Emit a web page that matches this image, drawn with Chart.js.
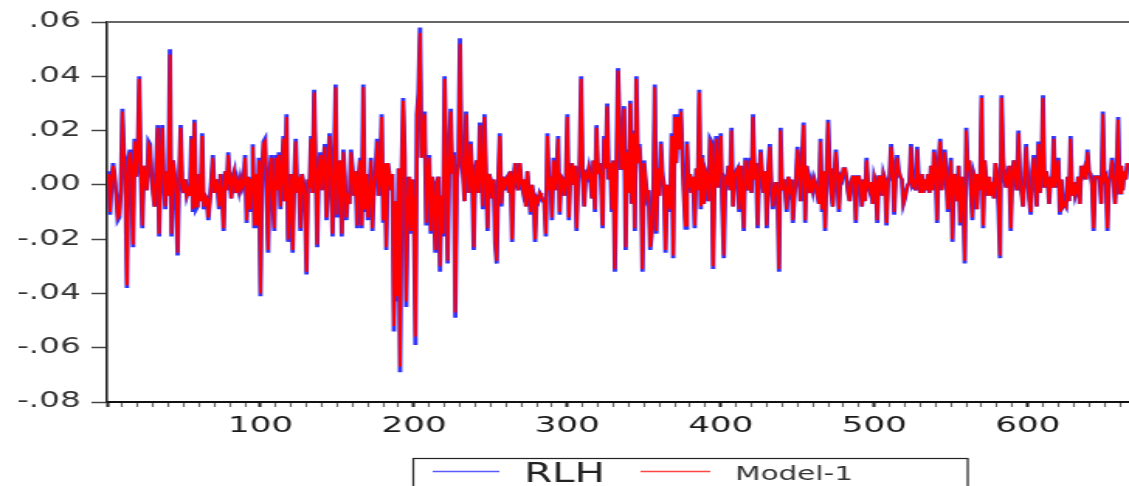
<!DOCTYPE html>
<html><head><meta charset="utf-8">
<script src="https://cdn.jsdelivr.net/npm/chart.js@4"></script>
<style>
html,body{margin:0;padding:0;background:#fff;overflow:hidden}
#c{display:block;width:1129px !important;height:486px !important}
</style></head><body>
<canvas id="c" width="728" height="486"></canvas>
<script>
// Series values (observations 1..665)
const rlh = [
.005,-.011,.002,.008,.003,-.004,-.013,-.012,-.002,.028,
.012,.002,-.038,.010,.013,.006,-.023,.017,.003,.010,
.040,.005,-.016,.007,.003,-.002,.016,.015,.004,-.003,
-.008,.006,.022,-.019,.008,.022,.002,-.009,.005,-.004,
.050,-.019,.009,.004,-.004,-.026,.002,.022,.001,-.003,
.002,-.004,-.002,-.004,.018,-.010,.024,-.009,-.008,.004,
-.006,.019,-.009,-.004,-.005,-.013,-.006,.002,.011,-.003,
.002,-.001,-.009,.004,-.004,-.017,.005,-.002,.012,.002,
-.005,.003,.005,-.003,.001,-.002,.002,-.001,.001,.011,
-.014,.003,-.010,.002,.015,-.016,.004,-.016,.010,-.041,
.004,.016,.017,-.002,-.025,.003,.011,-.004,-.017,.011,
-.002,.012,-.009,.005,.018,-.006,.026,-.021,-.008,.004,
-.025,.002,.017,-.003,.003,-.017,.004,.001,-.004,-.033,
.002,-.001,.018,-.003,.035,.006,-.023,.005,.012,-.002,
.008,.015,-.013,.005,.019,.002,-.019,.008,.037,-.012,
.005,.009,-.019,.013,.003,-.013,-.003,-.007,.013,.006,
-.004,.005,-.016,.003,.010,-.016,.037,-.010,.004,-.013,
-.004,.010,-.017,.000,.004,.017,-.004,.002,.026,-.014,
.008,-.024,.008,.004,-.002,.004,-.054,-.006,-.043,.006,
-.069,.004,.032,.010,-.045,-.008,.003,-.018,.002,-.010,
-.059,.026,.034,.058,.010,.017,.027,-.015,.004,.011,
-.018,.003,-.006,-.025,.001,.003,-.032,-.004,-.019,.040,
.010,-.029,.006,.028,.004,.012,-.049,.002,.008,.054,
.012,.004,-.006,.027,.006,-.003,.016,.003,-.024,.005,
.009,-.003,.023,.003,-.009,.026,.005,-.017,.004,.002,
-.005,.002,-.022,-.029,.002,.019,-.008,.003,-.002,.002,
.003,-.003,.005,-.021,.003,.008,.001,-.002,.008,.001,
-.002,.002,-.008,.005,-.003,-.011,.000,-.004,-.021,-.005,
-.006,-.003,-.004,-.006,-.006,-.019,.019,-.002,.003,-.013,
.010,-.002,.004,.018,-.011,.003,.002,-.004,.001,.026,
-.013,.005,.008,.000,.007,-.017,.002,.007,.040,.003,
-.008,.004,.003,.006,.002,-.005,.009,-.010,.022,.004,
.008,.002,-.016,.018,.006,.030,.002,.008,-.010,.009,
-.032,.004,.043,.024,.006,.006,.029,-.024,.013,-.003,
.031,-.007,.020,-.017,.040,.008,.015,.004,-.032,.009,
.002,-.004,-.002,-.024,-.018,-.006,.037,-.018,.006,-.004,
.016,.004,.000,-.025,.000,-.004,-.010,.019,-.027,.026,
.008,.026,.014,.028,.010,-.004,-.016,.016,-.001,.004,
-.003,.003,-.016,.006,-.002,.035,-.009,.011,-.007,.005,
.003,-.006,.017,.016,-.031,.004,.018,-.001,.008,.019,
-.008,-.027,.002,.001,.007,-.002,.021,-.008,.003,.005,
.006,-.010,.007,-.003,-.017,.010,.003,-.002,.010,-.003,
.026,.002,.008,-.016,.002,.013,.004,-.003,.005,-.016,
.006,.015,.000,-.009,-.002,.001,-.004,-.032,.021,-.002,
.002,-.003,-.010,.003,-.001,.002,-.014,-.004,.002,.014,
.005,-.006,.010,.023,-.014,.007,.003,-.003,.001,-.002,
.002,.000,-.004,-.007,.017,-.010,.005,-.017,.005,.024,
.006,-.003,-.008,.002,.013,.004,-.010,.003,.002,.006,
.006,.002,-.003,-.006,.001,.003,.003,-.014,.003,.003,
.000,-.008,.002,-.006,.010,.000,-.002,.001,-.007,.003,
.001,-.014,.003,.003,-.004,.004,.002,-.015,.001,.003,
.015,.008,-.011,.002,.011,.005,.003,.002,-.007,-.005,
-.002,.000,.001,.015,.000,.001,-.002,.014,.002,-.003,
.004,-.003,.002,-.002,.004,-.003,.007,-.002,.013,.005,
-.014,.008,.017,-.002,.004,.013,.002,-.010,.003,.010,
-.021,.004,.002,-.006,.007,-.015,.003,-.004,-.029,.021,
.005,.009,-.003,-.013,.004,.002,-.009,.004,-.002,.033,
-.016,.009,.002,-.004,.003,-.004,.001,-.005,.008,.004,
-.008,-.027,.033,.010,.002,-.001,.004,.007,-.017,.004,
.009,.003,-.002,.020,.002,-.003,-.008,.004,.015,.003,
-.005,-.011,.005,.011,.002,-.008,.016,-.003,.004,.033,
-.001,.005,.002,-.007,.003,-.001,.018,-.001,.004,.010,
-.011,.002,-.008,-.007,-.008,.003,-.006,.018,-.004,.001,
-.004,-.002,.003,-.007,.007,.004,.006,.002,.013,.005,
.004,.000,-.017,.003,.003,.003,.002,-.007,.027,.002,
.003,-.017,.002,.003,.010,.001,-.007,.005,.025,-.003,
.007,-.002,.005,.002,.008
];
const model1 = [
.004,-.010,.002,.007,.003,-.004,-.012,-.011,-.002,.027,
.012,.003,-.037,.009,.012,.006,-.022,.016,.003,.010,
.039,.005,-.015,.007,.003,-.002,.015,.014,.004,-.003,
-.008,.006,.021,-.018,.008,.021,.002,-.008,.005,-.004,
.048,-.018,.009,.004,-.004,-.025,.002,.021,.001,-.003,
.002,-.004,-.002,-.004,.017,-.009,.023,-.008,-.008,.004,
-.006,.018,-.008,-.004,-.005,-.012,-.006,.002,.010,-.003,
.002,-.001,-.008,.004,-.004,-.016,.005,-.002,.011,.002,
-.005,.003,.005,-.003,.001,-.002,.002,-.001,.001,.010,
-.013,.003,-.009,.002,.014,-.015,.004,-.015,.009,-.040,
.004,.015,.016,-.002,-.024,.003,.010,-.004,-.016,.010,
-.002,.011,-.008,.005,.017,-.006,.025,-.020,-.008,.004,
-.024,.002,.016,-.003,.003,-.016,.004,.001,-.004,-.032,
.002,-.001,.017,-.003,.034,.006,-.022,.005,.011,-.002,
.008,.014,-.012,.005,.018,.002,-.018,.008,.036,-.011,
.005,.009,-.018,.012,.003,-.012,-.003,-.007,.012,.006,
-.004,.005,-.015,.003,.009,-.015,.036,-.009,.004,-.012,
-.004,.009,-.016,.000,.004,.016,-.004,.002,.025,-.013,
.008,-.023,.008,.004,-.002,.004,-.052,-.006,-.041,.006,
-.067,.004,.031,.010,-.043,-.008,.003,-.017,.002,-.010,
-.056,.026,.033,.056,.010,.016,.026,-.014,.004,.010,
-.017,.003,-.006,-.024,.001,.003,-.030,-.004,-.018,.039,
.010,-.028,.006,.027,.004,.011,-.047,.002,.008,.052,
.012,.004,-.006,.026,.006,-.003,.015,.003,-.023,.005,
.009,-.003,.022,.003,-.008,.025,.005,-.016,.004,.002,
-.005,.002,-.021,-.028,.002,.018,-.007,.003,-.002,.002,
.003,-.003,.005,-.020,.003,.008,.001,-.002,.008,.001,
-.002,.002,-.008,.005,-.003,-.010,.000,-.004,-.020,-.005,
-.006,-.003,-.004,-.006,-.006,-.018,.018,-.002,.003,-.012,
.009,-.002,.004,.017,-.010,.003,.002,-.004,.001,.025,
-.012,.005,.008,.000,.007,-.016,.002,.007,.039,.003,
-.008,.004,.003,.006,.002,-.005,.009,-.009,.021,.004,
.008,.002,-.015,.017,.006,.029,.002,.008,-.009,.009,
-.031,.004,.042,.023,.006,.006,.028,-.023,.012,-.003,
.030,-.007,.019,-.016,.039,.008,.014,.004,-.031,.008,
.002,-.004,-.002,-.023,-.017,-.006,.036,-.017,.006,-.004,
.015,.004,.000,-.024,.000,-.004,-.009,.018,-.026,.025,
.008,.025,.013,.027,.009,-.004,-.015,.015,-.001,.004,
-.003,.003,-.015,.006,-.002,.034,-.008,.010,-.007,.005,
.003,-.006,.016,.015,-.030,.004,.017,-.001,.008,.018,
-.008,-.026,.002,.001,.007,-.002,.020,-.008,.003,.005,
.006,-.009,.007,-.003,-.016,.009,.003,-.002,.009,-.003,
.025,.002,.008,-.015,.002,.012,.004,-.003,.005,-.015,
.006,.014,.000,-.008,-.002,.001,-.004,-.031,.020,-.002,
.002,-.003,-.009,.003,-.001,.002,-.013,-.004,.002,.013,
.005,-.006,.009,.022,-.013,.007,.003,-.003,.001,-.002,
.002,.000,-.004,-.007,.016,-.009,.005,-.016,.005,.023,
.006,-.003,-.008,.002,.012,.004,-.009,.003,.002,.006,
.006,.002,-.003,-.006,.001,.003,.003,-.013,.003,.003,
.000,-.008,.002,-.006,.009,.000,-.002,.001,-.007,.003,
.001,-.013,.003,.003,-.004,.004,.002,-.014,.001,.003,
.014,.008,-.010,.002,.010,.005,.003,.002,-.007,-.005,
-.002,.000,.001,.014,.000,.001,-.002,.013,.002,-.003,
.004,-.003,.002,-.002,.004,-.003,.007,-.002,.012,.005,
-.013,.008,.016,-.002,.004,.012,.002,-.009,.003,.009,
-.020,.004,.002,-.006,.007,-.014,.003,-.004,-.028,.020,
.005,.009,-.003,-.012,.004,.002,-.009,.004,-.002,.032,
-.015,.009,.002,-.004,.003,-.004,.001,-.005,.008,.004,
-.008,-.026,.032,.010,.002,-.001,.004,.007,-.016,.004,
.009,.003,-.002,.019,.002,-.003,-.008,.004,.014,.003,
-.005,-.010,.005,.010,.002,-.008,.015,-.003,.004,.032,
-.001,.005,.002,-.007,.003,-.001,.017,-.001,.004,.009,
-.010,.002,-.008,-.007,-.008,.003,-.006,.017,-.004,.001,
-.004,-.002,.003,-.007,.007,.004,.006,.002,.012,.005,
.004,.000,-.016,.003,.003,.003,.002,-.007,.026,.002,
.003,-.016,.002,.003,.009,.001,-.007,.005,.024,-.003,
.007,-.002,.005,.002,.008
];
const seriesNames = ['RLH', 'Model-1'];
const yTickLabels = ['-.08', '-.06', '-.04', '-.02', '.00', '.02', '.04', '.06'];
const xTickLabels = ['100', '200', '300', '400', '500', '600'];
const obsIndex = rlh.map((_, k) => k + 1);

const FONT = "'DejaVu Sans', Verdana, sans-serif";

const frameAndLegend = {
  id: 'frameAndLegend',
  afterDraw(chart) {
    const ctx = chart.ctx, a = chart.chartArea;
    ctx.save();
    // top frame line
    ctx.strokeStyle = '#666';
    ctx.lineWidth = 2;
    ctx.beginPath();
    ctx.moveTo(a.left, a.top);
    ctx.lineTo(chart.width, a.top);
    ctx.stroke();
    // legend box
    ctx.strokeStyle = '#222';
    ctx.lineWidth = 1.2;
    ctx.strokeRect(266.5, 458.5, 357.5, 40);
    ctx.lineWidth = 1.5;
    ctx.strokeStyle = 'rgb(90,90,255)';
    ctx.beginPath(); ctx.moveTo(279, 471.5); ctx.lineTo(322, 471.5); ctx.stroke();
    ctx.strokeStyle = 'rgb(255,70,70)';
    ctx.beginPath(); ctx.moveTo(413, 471.5); ctx.lineTo(458, 471.5); ctx.stroke();
    ctx.fillStyle = '#222';
    ctx.textBaseline = 'alphabetic';
    ctx.textAlign = 'left';
    ctx.font = '26px ' + FONT;
    ctx.fillText(seriesNames[0], 338, 482);
    ctx.font = '19px ' + FONT;
    ctx.fillStyle = '#333';
    ctx.fillText(seriesNames[1], 474, 480);
    ctx.restore();
  }
};

new Chart(document.getElementById('c'), {
  type: 'line',
  data: {
    datasets: [
      {
        label: seriesNames[0],
        data: rlh.map((v, k) => ({x: obsIndex[k], y: v})),
        borderColor: 'rgb(50,50,255)',
        borderWidth: 2.8,
        pointRadius: 0,
        tension: 0,
        order: 2
      },
      {
        label: seriesNames[1],
        data: model1.map((v, k) => ({x: obsIndex[k], y: v})),
        borderColor: 'rgb(255,0,0)',
        borderWidth: 1.9,
        pointRadius: 0,
        tension: 0,
        order: 1
      }
    ]
  },
  options: {
    responsive: false,
    animation: false,
    devicePixelRatio: 1,
    layout: {padding: {top: 22, right: 0, left: 0, bottom: 0}},
    plugins: {legend: {display: false}, tooltip: {enabled: false}},
    scales: {
      x: {
        type: 'linear',
        min: 0,
        max: 666,
        afterFit(scale) { scale.height = 84; },
        border: {display: true, color: '#111', width: 2},
        grid: {
          drawOnChartArea: false,
          drawTicks: true,
          tickLength: 5,
          tickColor: (c) => (c.tick && c.tick.value % 100 === 0) ? '#222' : '#666',
          tickWidth: (c) => (c.tick && c.tick.value % 100 === 0) ? 2 : 1.2
        },
        ticks: {
          stepSize: 10,
          autoSkip: false,
          includeBounds: false,
          maxRotation: 0,
          padding: 6,
          color: '#1a1a1a',
          font: {family: FONT, size: 22},
          callback: (v) => (v > 0 && v % 100 === 0) ? xTickLabels[v / 100 - 1] : ''
        }
      },
      y: {
        min: -0.08,
        max: 0.06,
        afterFit(scale) { scale.width = 69; },
        border: {display: true, color: '#222', width: 1.6},
        grid: {drawOnChartArea: false, drawTicks: true, tickLength: 10, tickColor: '#444', tickWidth: 1.5},
        ticks: {
          stepSize: 0.02,
          padding: 7,
          color: '#333',
          font: {family: FONT, size: 21},
          callback: (v, i) => yTickLabels[i]
        }
      }
    }
  },
  plugins: [frameAndLegend]
});
</script>
</body></html>
